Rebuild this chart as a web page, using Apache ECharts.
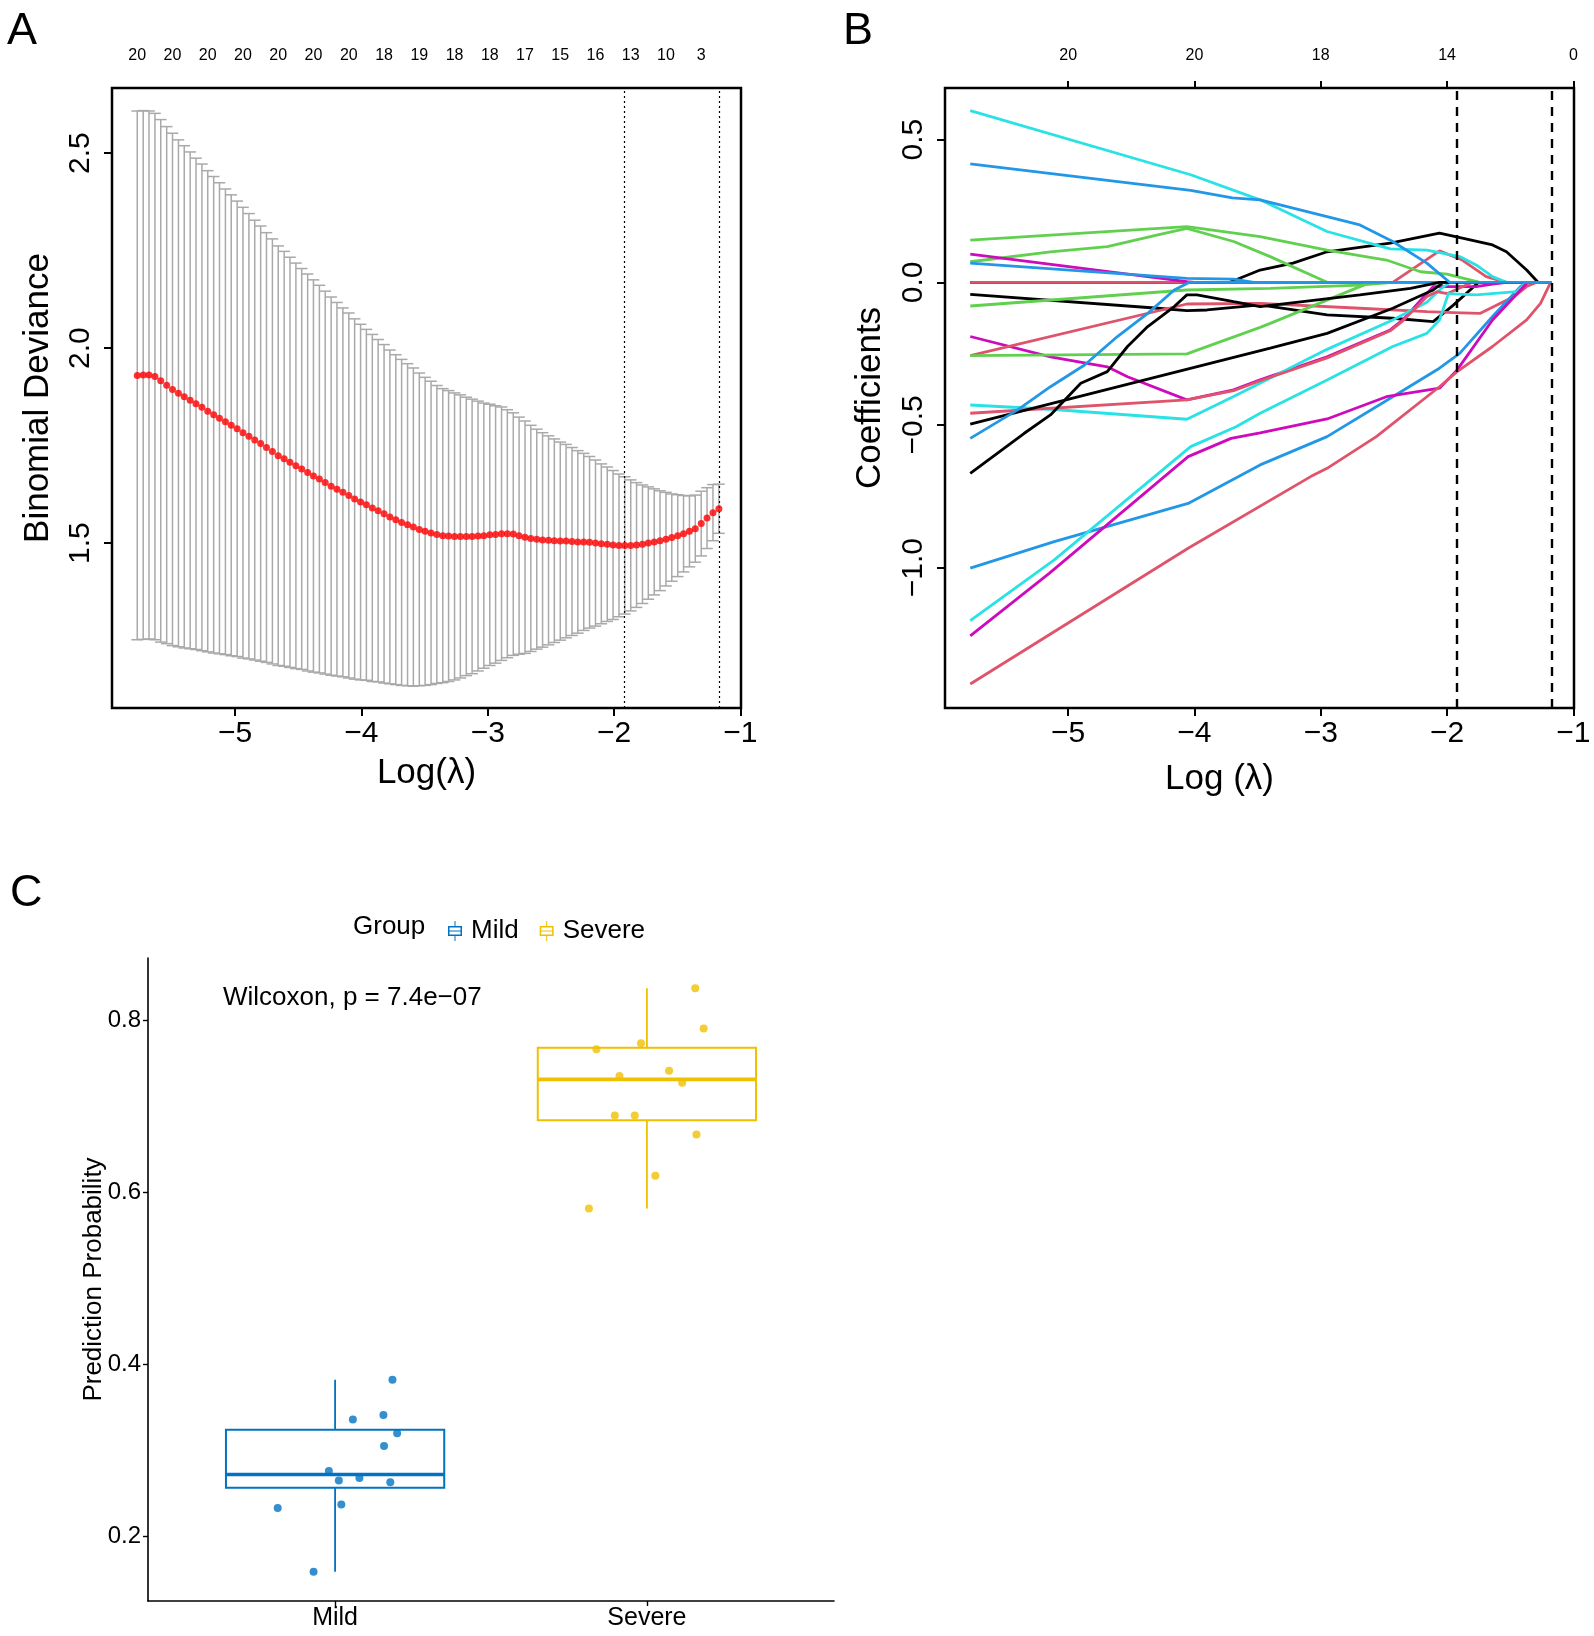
<!DOCTYPE html>
<html>
<head>
<meta charset="utf-8">
<script src="https://cdn.jsdelivr.net/npm/echarts@6/dist/echarts.min.js"></script>
<style>
html,body{margin:0;padding:0;background:#fff;}
#chart{width:1594px;height:1636px;}
</style>
</head>
<body>
<div id="chart"></div>
<script>
// ---------- A : cv.glmnet curve ----------
var logLambda = [-5.775,-5.728,-5.682,-5.635,-5.589,-5.542,-5.496,-5.449,-5.403,-5.356,
  -5.310,-5.263,-5.217,-5.170,-5.124,-5.077,-5.031,-4.984,-4.938,-4.891,
  -4.845,-4.798,-4.752,-4.705,-4.659,-4.612,-4.566,-4.519,-4.473,-4.426,
  -4.380,-4.333,-4.287,-4.240,-4.194,-4.147,-4.100,-4.054,-4.007,-3.961,
  -3.914,-3.868,-3.821,-3.775,-3.728,-3.682,-3.635,-3.589,-3.542,-3.496,
  -3.449,-3.403,-3.356,-3.310,-3.263,-3.217,-3.170,-3.124,-3.077,-3.031,
  -2.984,-2.938,-2.891,-2.845,-2.798,-2.752,-2.705,-2.659,-2.612,-2.566,
  -2.519,-2.473,-2.426,-2.380,-2.333,-2.287,-2.240,-2.194,-2.147,-2.101,
  -2.054,-2.008,-1.961,-1.915,-1.868,-1.822,-1.775,-1.729,-1.682,-1.636,
  -1.589,-1.543,-1.496,-1.450,-1.403,-1.357,-1.310,-1.264,-1.217,-1.170];
var cvMean = [1.930,1.931,1.931,1.927,1.916,1.905,1.894,1.884,1.875,1.866,
  1.857,1.848,1.838,1.829,1.820,1.811,1.802,1.793,1.783,1.774,
  1.764,1.755,1.745,1.735,1.724,1.716,1.707,1.698,1.690,1.681,
  1.672,1.664,1.655,1.646,1.638,1.630,1.622,1.613,1.605,1.598,
  1.590,1.583,1.575,1.567,1.560,1.553,1.547,1.541,1.535,1.530,
  1.526,1.522,1.519,1.518,1.517,1.517,1.517,1.517,1.518,1.519,
  1.521,1.522,1.524,1.524,1.523,1.519,1.515,1.512,1.510,1.508,
  1.507,1.506,1.505,1.505,1.504,1.503,1.503,1.502,1.500,1.498,
  1.497,1.495,1.494,1.494,1.494,1.495,1.497,1.500,1.503,1.506,
  1.510,1.514,1.519,1.524,1.530,1.537,1.550,1.564,1.578,1.588];
var cvSd = [0.678,0.678,0.677,0.675,0.670,0.663,0.657,0.650,0.644,0.637,
  0.630,0.624,0.617,0.611,0.604,0.597,0.591,0.584,0.578,0.571,
  0.564,0.558,0.551,0.545,0.538,0.532,0.526,0.520,0.514,0.509,
  0.503,0.497,0.491,0.485,0.479,0.473,0.468,0.462,0.456,0.450,
  0.445,0.439,0.434,0.428,0.423,0.418,0.413,0.408,0.401,0.395,
  0.389,0.382,0.377,0.373,0.368,0.363,0.357,0.352,0.346,0.340,
  0.335,0.330,0.325,0.318,0.311,0.304,0.298,0.290,0.282,0.275,
  0.268,0.261,0.254,0.248,0.241,0.234,0.227,0.220,0.213,0.205,
  0.198,0.191,0.183,0.176,0.168,0.160,0.152,0.144,0.136,0.128,
  0.120,0.112,0.105,0.098,0.091,0.086,0.083,0.078,0.072,0.063];
var nzIdx = [0,6,12,18,24,30,36,42,48,54,60,66,72,78,84,90,96];
var nzCount = [20,20,20,20,20,20,20,18,19,18,18,17,15,16,13,10,3];
var lambdaSel = [-1.915, -1.170];

// ---------- B : coefficient paths ----------
var coefTopAt = [-5,-4,-3,-2,-1];
var coefTopDf = [20,20,18,14,0];
var blk0 = [[-5.775,0],[-3.72,0],[-3.48,0.043],[-3.22,0.067],[-2.95,0.107],[-2.45,0.137],[-2.06,0.172],[-1.87,0.154],[-1.64,0.131],[-1.53,0.107],[-1.37,0.043],[-1.28,0],[-1.17,0]];
var red0 = [[-5.775,0],[-2.43,0],[-2.06,0.110],[-1.88,0.078],[-1.69,0.020],[-1.53,0],[-1.17,0]];
var cyanA = [[-5.775,0.602],[-4.03,0.377],[-3.48,0.289],[-2.95,0.178],[-2.45,0.117],[-2.16,0.113],[-1.90,0.090],[-1.77,0.061],[-1.64,0.020],[-1.53,0],[-1.17,0]];
var greenA = [[-5.775,0.148],[-4.06,0.195],[-3.48,0.160],[-2.95,0.113],[-2.48,0.078],[-2.21,0.037],[-2.00,0.029],[-1.74,0],[-1.17,0]];
var greenB = [[-5.775,0.072],[-5.14,0.107],[-4.69,0.125],[-4.29,0.166],[-4.06,0.189],[-3.69,0.143],[-3.40,0.090],[-2.95,0],[-1.17,0]];
var magentaA = [[-5.775,0.099],[-4.06,0.002],[-4.00,0],[-1.17,0]];
var blueB = [[-5.775,0.067],[-4.06,0.014],[-3.69,0.011],[-3.53,0],[-1.17,0]];
var blackA = [[-5.775,-0.042],[-4.29,-0.091],[-4.06,-0.099],[-3.90,-0.097],[-3.48,-0.079],[-2.95,-0.114],[-2.43,-0.126],[-2.11,-0.138],[-1.95,-0.080],[-1.75,0],[-1.17,0]];
var greenC = [[-5.775,-0.083],[-4.06,-0.027],[-3.40,-0.021],[-2.69,-0.010],[-2.43,0],[-1.17,0]];
var magentaB = [[-5.775,-0.190],[-5.14,-0.261],[-4.69,-0.296],[-4.53,-0.331],[-4.06,-0.412],[-3.69,-0.377],[-3.48,-0.342],[-2.95,-0.261],[-2.45,-0.167],[-2.35,-0.132],[-2.16,-0.039],[-2.11,-0.015],[-1.77,-0.015],[-1.64,-0.006],[-1.53,0],[-1.17,0]];
var redA = [[-5.775,-0.257],[-4.06,-0.076],[-3.48,-0.074],[-2.69,-0.091],[-2.16,-0.103],[-1.95,-0.106],[-1.74,-0.109],[-1.47,-0.050],[-1.37,-0.015],[-1.29,0],[-1.17,0]];
var greenD = [[-5.775,-0.257],[-4.06,-0.251],[-3.48,-0.158],[-3.40,-0.144],[-2.69,-0.015],[-2.60,0],[-1.17,0]];
var cyanB = [[-5.775,-0.430],[-5.14,-0.445],[-4.06,-0.480],[-3.69,-0.400],[-3.43,-0.342],[-2.95,-0.235],[-2.43,-0.132],[-2.16,-0.070],[-2.06,-0.027],[-1.98,0],[-1.17,0]];
var redB = [[-5.775,-0.459],[-4.06,-0.412],[-3.69,-0.380],[-3.48,-0.345],[-2.95,-0.265],[-2.45,-0.170],[-2.35,-0.135],[-2.16,-0.050],[-2.08,-0.033],[-2.00,-0.040],[-1.90,-0.020],[-1.80,0],[-1.17,0]];
var blackB = [[-5.775,-0.497],[-3.40,-0.231],[-2.95,-0.179],[-2.43,-0.091],[-2.11,-0.027],[-2.03,0],[-1.17,0]];
var blueC = [[-5.775,-0.547],[-5.40,-0.447],[-5.14,-0.366],[-4.87,-0.290],[-4.61,-0.190],[-4.37,-0.109],[-4.16,-0.027],[-4.04,0],[-1.17,0]];
var blackC = [[-5.775,-0.670],[-5.35,-0.530],[-5.14,-0.465],[-4.90,-0.354],[-4.69,-0.313],[-4.53,-0.225],[-4.37,-0.155],[-4.16,-0.085],[-4.06,-0.044],[-3.98,-0.044],[-3.69,-0.068],[-3.48,-0.085],[-2.69,-0.044],[-2.29,-0.021],[-2.06,0],[-1.17,0]];
var blueD = [[-5.775,-1.002],[-5.11,-0.909],[-4.05,-0.775],[-3.48,-0.640],[-2.95,-0.541],[-2.43,-0.401],[-2.06,-0.301],[-1.90,-0.249],[-1.64,-0.120],[-1.42,-0.015],[-1.37,0],[-1.17,0]];
var cyanC = [[-5.775,-1.186],[-5.11,-0.973],[-4.03,-0.576],[-3.67,-0.506],[-3.48,-0.459],[-2.95,-0.342],[-2.43,-0.225],[-2.16,-0.179],[-2.06,-0.132],[-1.99,-0.040],[-1.77,-0.044],[-1.45,-0.033],[-1.37,0],[-1.17,0]];
var magentaC = [[-5.775,-1.239],[-5.15,-1.020],[-4.05,-0.611],[-3.71,-0.547],[-3.48,-0.528],[-2.95,-0.479],[-2.48,-0.401],[-2.06,-0.371],[-1.92,-0.307],[-1.64,-0.132],[-1.37,-0.004],[-1.35,0],[-1.17,0]];
var redC = [[-5.775,-1.408],[-4.05,-0.932],[-3.08,-0.681],[-2.95,-0.652],[-2.56,-0.541],[-2.06,-0.366],[-1.92,-0.313],[-1.64,-0.225],[-1.37,-0.132],[-1.26,-0.074],[-1.18,0]];
var blueA = [[-5.775,0.415],[-4.03,0.322],[-3.70,0.296],[-3.48,0.289],[-2.95,0.230],[-2.69,0.201],[-2.43,0.143],[-2.16,0.067],[-1.98,0],[-1.17,0]];

// ---------- C : prediction probability ----------
var groups = ['Mild', 'Severe'];
var mildProb = [0.382,0.341,0.336,0.320,0.305,0.276,0.268,0.265,0.263,0.237,0.233,0.159];
var mildJitter = [0.184,0.155,0.057,0.199,0.157,-0.020,0.078,0.012,0.177,0.020,-0.184,-0.069];
var severeProb = [0.837,0.790,0.773,0.766,0.741,0.735,0.727,0.689,0.689,0.667,0.619,0.581];
var severeJitter = [0.155,0.182,-0.019,-0.162,0.071,-0.088,0.113,-0.103,-0.039,0.159,0.027,-0.186];
var pLabel = 'Wilcoxon, p = 7.4e\u221207';

// styles
var FONT = '"Liberation Sans", Arial, sans-serif';
var R = {black:'#000000', red:'#DF536B', green:'#61D04F', blue:'#2297E6', cyan:'#28E2E5', magenta:'#CD0BBC'};
var C_MILD = '#0073C2', C_SEV = '#EFC000';
var X_MIN = -5.975, X_MAX = -0.995;

function fmt(v, d) {
    var s = Math.abs(v).toFixed(d);
    return v < -1e-9 ? '\u2212' + s : s;
}

function quantile(s, p) {
    var h = (s.length - 1) * p, lo = Math.floor(h);
    var nx = lo + 1 < s.length ? s[lo + 1] : s[lo];
    return s[lo] + (h - lo) * (nx - s[lo]);
}
function boxStats(vals) {
    var s = vals.slice().sort(function (a, b) { return a - b; });
    var q1 = quantile(s, 0.25), q3 = quantile(s, 0.75), iqr = q3 - q1;
    var inside = s.filter(function (v) { return v >= q1 - 1.5 * iqr && v <= q3 + 1.5 * iqr; });
    return [inside[0], q1, quantile(s, 0.5), q3, inside[inside.length - 1]];
}

var nzMap = {};
nzIdx.forEach(function (idx, k) { nzMap[logLambda[idx].toFixed(3)] = nzCount[k]; });
var dfMap = {};
coefTopAt.forEach(function (v, k) { dfMap[v.toFixed(3)] = coefTopDf[k]; });

var capHalf = 0.01 * (logLambda[logLambda.length - 1] - logLambda[0]);

function renderErrBar(params, api) {
    var x = api.value(0), lo = api.value(1), hi = api.value(2);
    var t = api.coord([x, hi]), b = api.coord([x, lo]);
    var tl = api.coord([x - capHalf, hi]), tr = api.coord([x + capHalf, hi]);
    var bl = api.coord([x - capHalf, lo]), br = api.coord([x + capHalf, lo]);
    var st = {stroke: '#A9A9A9', lineWidth: 1.5};
    return {type: 'group', children: [
        {type: 'line', shape: {x1: t[0], y1: t[1], x2: b[0], y2: b[1]}, style: st},
        {type: 'line', shape: {x1: tl[0], y1: tl[1], x2: tr[0], y2: tr[1]}, style: st},
        {type: 'line', shape: {x1: bl[0], y1: bl[1], x2: br[0], y2: br[1]}, style: st}
    ]};
}

function boxRenderer(color) {
    return function (params, api) {
        var x = api.value(0);
        var lo = api.coord([x, api.value(1)]), q1 = api.coord([x, api.value(2)]);
        var md = api.coord([x, api.value(3)]), q3 = api.coord([x, api.value(4)]);
        var hi = api.coord([x, api.value(5)]);
        var half = api.size([0.7, 0])[0] / 2;
        return {type: 'group', children: [
            {type: 'line', shape: {x1: lo[0], y1: lo[1], x2: q1[0], y2: q1[1]}, style: {stroke: color, lineWidth: 1.8}},
            {type: 'line', shape: {x1: q3[0], y1: q3[1], x2: hi[0], y2: hi[1]}, style: {stroke: color, lineWidth: 1.8}},
            {type: 'rect', shape: {x: q3[0] - half, y: q3[1], width: half * 2, height: q1[1] - q3[1]}, style: {fill: '#fff', stroke: color, lineWidth: 2}},
            {type: 'line', shape: {x1: md[0] - half, y1: md[1], x2: md[0] + half, y2: md[1]}, style: {stroke: color, lineWidth: 3.6}}
        ]};
    };
}

var coefPaths = [blk0, red0, cyanA, greenA, greenB, magentaA, blueB, blackA, greenC, magentaB, redA,
    greenD, cyanB, redB, blackB, blueC, blackC, blueD, cyanC, magentaC, redC, blueA];
var coefCols = ['black', 'red', 'cyan', 'green', 'green', 'magenta', 'blue', 'black', 'green', 'magenta', 'red',
    'green', 'cyan', 'red', 'black', 'blue', 'black', 'blue', 'cyan', 'magenta', 'red', 'blue'];

var tickStyle = {color: '#000', width: 2};

var series = [];
series.push({
    type: 'custom', xAxisIndex: 0, yAxisIndex: 0, silent: true,
    renderItem: renderErrBar, encode: {x: 0, y: [1, 2]},
    data: logLambda.map(function (x, i) { return [x, cvMean[i] - cvSd[i], cvMean[i] + cvSd[i]]; })
});
series.push({
    type: 'scatter', xAxisIndex: 0, yAxisIndex: 0, silent: true, z: 5,
    symbolSize: 7, itemStyle: {color: '#FF0000'},
    data: logLambda.map(function (x, i) { return [x, cvMean[i]]; }),
    markLine: {
        symbol: 'none', silent: true, label: {show: false},
        lineStyle: {color: '#000', width: 1.2, type: [2, 3]},
        data: lambdaSel.map(function (v) { return {xAxis: v}; })
    }
});
coefPaths.forEach(function (p, k) {
    var s = {
        type: 'line', name: 'coef' + k, xAxisIndex: 2, yAxisIndex: 1, silent: true,
        showSymbol: false, symbol: 'none', data: p,
        lineStyle: {color: R[coefCols[k]], width: 2.8}, itemStyle: {color: R[coefCols[k]]}
    };
    if (k === 0) {
        s.markLine = {
            symbol: 'none', silent: true, label: {show: false},
            lineStyle: {color: '#000', width: 2.4, type: [9, 7]},
            data: lambdaSel.map(function (v) { return {xAxis: v}; })
        };
    }
    series.push(s);
});
series.push({
    type: 'custom', name: 'Mild', xAxisIndex: 4, yAxisIndex: 2, silent: true,
    renderItem: boxRenderer(C_MILD), encode: {x: 0, y: [1, 2, 3, 4, 5]},
    itemStyle: {color: C_MILD}, data: [[1].concat(boxStats(mildProb))]
});
series.push({
    type: 'custom', name: 'Severe', xAxisIndex: 4, yAxisIndex: 2, silent: true,
    renderItem: boxRenderer(C_SEV), encode: {x: 0, y: [1, 2, 3, 4, 5]},
    itemStyle: {color: C_SEV}, data: [[2].concat(boxStats(severeProb))]
});
series.push({
    type: 'scatter', name: 'Mild', xAxisIndex: 4, yAxisIndex: 2, silent: true, z: 5,
    symbolSize: 8, itemStyle: {color: C_MILD},
    data: mildProb.map(function (v, i) { return [1 + mildJitter[i], v]; })
});
series.push({
    type: 'scatter', name: 'Severe', xAxisIndex: 4, yAxisIndex: 2, silent: true, z: 5,
    symbolSize: 8, itemStyle: {color: C_SEV},
    data: severeProb.map(function (v, i) { return [2 + severeJitter[i], v]; })
});

var boxIcon = 'path://M6.5,0H7.5V5H6.5ZM6.5,15H7.5V20H6.5ZM0,5H14V15H0ZM1.5,6.5V13.5H12.5V6.5ZM1.5,9.4H12.5V10.6H1.5Z';

var option = {
    animation: false,
    backgroundColor: '#fff',
    textStyle: {fontFamily: FONT, color: '#000'},
    grid: [
        {left: 112, top: 88, width: 629, height: 620, show: true, borderColor: '#000', borderWidth: 2.5, backgroundColor: 'transparent', outerBoundsMode: 'none'},
        {left: 945, top: 88, width: 629, height: 620, show: true, borderColor: '#000', borderWidth: 2.5, backgroundColor: 'transparent', outerBoundsMode: 'none'},
        {left: 148, top: 958, width: 686, height: 643, outerBoundsMode: 'none'}
    ],
    xAxis: [
        {gridIndex: 0, type: 'value', min: X_MIN, max: X_MAX,
         axisLine: {show: false, onZero: false}, splitLine: {show: false},
         axisTick: {customValues: coefTopAt, length: 8, lineStyle: tickStyle},
         axisLabel: {customValues: coefTopAt, formatter: function (v) { return fmt(v, 0); }, fontSize: 30, color: '#000', margin: 11},
         name: 'Log(\u03bb)', nameLocation: 'middle', nameGap: 48, nameMoveOverlap: false,
         nameTextStyle: {fontSize: 35, color: '#000'}},
        {gridIndex: 0, type: 'value', position: 'top', min: X_MIN, max: X_MAX,
         axisLine: {show: false, onZero: false}, axisTick: {show: false}, splitLine: {show: false},
         axisLabel: {customValues: nzIdx.map(function (i) { return logLambda[i]; }),
                     formatter: function (v) { return String(nzMap[v.toFixed(3)]); }, fontSize: 16, color: '#000', margin: 24}},
        {gridIndex: 1, type: 'value', min: X_MIN, max: X_MAX,
         axisLine: {show: false, onZero: false}, splitLine: {show: false},
         axisTick: {customValues: coefTopAt, length: 8, lineStyle: tickStyle},
         axisLabel: {customValues: coefTopAt, formatter: function (v) { return fmt(v, 0); }, fontSize: 30, color: '#000', margin: 11},
         name: 'Log (\u03bb)', nameLocation: 'middle', nameGap: 54, nameMoveOverlap: false,
         nameTextStyle: {fontSize: 35, color: '#000', padding: [0, 80, 0, 0]}},
        {gridIndex: 1, type: 'value', position: 'top', min: X_MIN, max: X_MAX,
         axisLine: {show: false, onZero: false}, splitLine: {show: false},
         axisTick: {customValues: coefTopAt, length: 7, lineStyle: tickStyle},
         axisLabel: {customValues: coefTopAt, formatter: function (v) { return String(dfMap[v.toFixed(3)]); }, fontSize: 16, color: '#000', margin: 24}},
        {gridIndex: 2, type: 'value', min: 0.4, max: 2.6,
         axisLine: {show: true, onZero: false, lineStyle: {color: '#000', width: 1.6}}, splitLine: {show: false},
         axisTick: {customValues: [1, 2], length: 5, lineStyle: {color: '#000', width: 1.4}},
         axisLabel: {customValues: [1, 2], formatter: function (v) { return groups[Math.round(v) - 1]; }, fontSize: 25, color: '#000', margin: 5}}
    ],
    yAxis: [
        {gridIndex: 0, type: 'value', min: 1.077, max: 2.667,
         axisLine: {show: false, onZero: false}, splitLine: {show: false},
         axisTick: {customValues: [1.5, 2, 2.5], length: 8, lineStyle: tickStyle},
         axisLabel: {customValues: [1.5, 2, 2.5], rotate: 90, formatter: function (v) { return fmt(v, 1); }, fontSize: 30, color: '#000', margin: 16},
         name: 'Binomial Deviance', nameLocation: 'middle', nameRotate: 90, nameGap: 56, nameMoveOverlap: false,
         nameTextStyle: {fontSize: 35, color: '#000'}},
        {gridIndex: 1, type: 'value', min: -1.492, max: 0.681,
         axisLine: {show: false, onZero: false}, splitLine: {show: false},
         axisTick: {customValues: [-1, -0.5, 0, 0.5], length: 8, lineStyle: tickStyle},
         axisLabel: {customValues: [-1, -0.5, 0, 0.5], rotate: 90, formatter: function (v) { return fmt(v, 1); }, fontSize: 30, color: '#000', margin: 16},
         name: 'Coefficients', nameLocation: 'middle', nameRotate: 90, nameGap: 57, nameMoveOverlap: false,
         nameTextStyle: {fontSize: 35, color: '#000'}},
        {gridIndex: 2, type: 'value', min: 0.125, max: 0.872,
         axisLine: {show: true, onZero: false, lineStyle: {color: '#000', width: 1.6}}, splitLine: {show: false},
         axisTick: {customValues: [0.2, 0.4, 0.6, 0.8], length: 5, lineStyle: {color: '#000', width: 1.4}},
         axisLabel: {customValues: [0.2, 0.4, 0.6, 0.8], formatter: function (v) { return v.toFixed(1); }, fontSize: 24, color: '#000', margin: 7},
         name: 'Prediction Probability', nameLocation: 'middle', nameRotate: 90, nameGap: 41, nameMoveOverlap: false,
         nameTextStyle: {fontSize: 26, color: '#000'}}
    ],
    legend: {
        data: [
            {name: 'Mild', icon: boxIcon, itemStyle: {color: C_MILD, borderWidth: 0}},
            {name: 'Severe', icon: boxIcon, itemStyle: {color: C_SEV, borderWidth: 0}}
        ],
        left: 443, top: 913, orient: 'horizontal', itemWidth: 14, itemHeight: 20, itemGap: 21,
        selectedMode: false,
        textStyle: {fontSize: 26, color: '#000', fontFamily: FONT, padding: [0, 0, 0, 4]}
    },
    graphic: [
        {type: 'text', x: 7, y: 9, style: {text: 'A', fontSize: 45, fontFamily: FONT, fill: '#000', verticalAlign: 'top'}},
        {type: 'text', x: 843, y: 9, style: {text: 'B', fontSize: 45, fontFamily: FONT, fill: '#000', verticalAlign: 'top'}},
        {type: 'text', x: 10, y: 871, style: {text: 'C', fontSize: 45, fontFamily: FONT, fill: '#000', verticalAlign: 'top'}},
        {type: 'text', x: 353, y: 927, style: {text: 'Group', fontSize: 26, fontFamily: FONT, fill: '#000', verticalAlign: 'middle'}},
        {type: 'text', x: 223, y: 998, style: {text: pLabel, fontSize: 26, fontFamily: FONT, fill: '#000', verticalAlign: 'middle'}}
    ],
    series: series
};

var chart = echarts.init(document.getElementById('chart'));
chart.setOption(option);
</script>
</body>
</html>
